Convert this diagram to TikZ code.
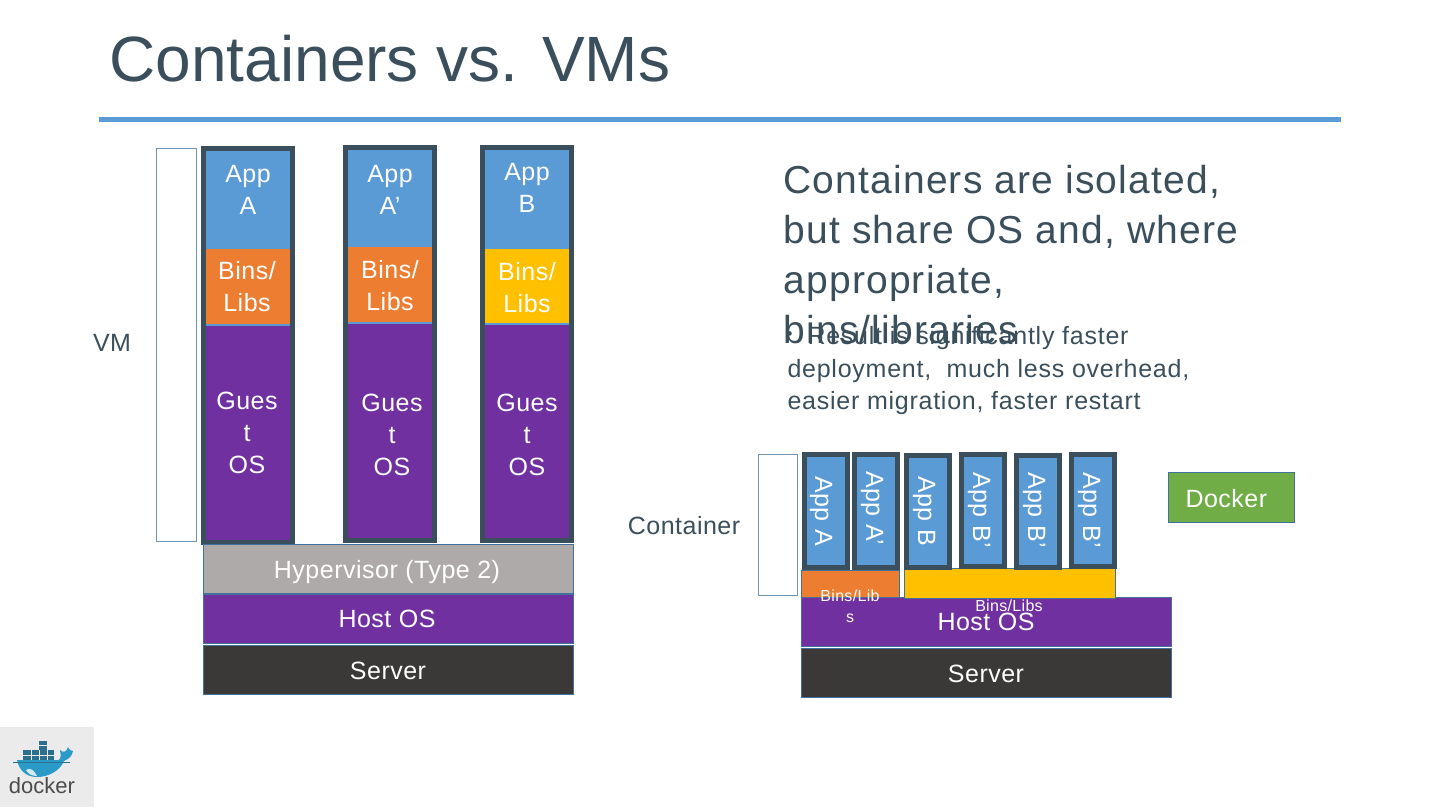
\documentclass[tikz,border=0pt]{standalone}
\usepackage{fontspec}
\setmainfont{Liberation Sans}[LetterSpace=2]
\newfontfamily\titlefont{Liberation Sans}
\newfontfamily\leadfont{Liberation Sans}[LetterSpace=3]
\usepackage{xcolor}
\definecolor{slate}{HTML}{3A4F5B}
\definecolor{appblue}{HTML}{5B9BD5}
\definecolor{binorange}{HTML}{ED7D31}
\definecolor{binyellow}{HTML}{FFC000}
\definecolor{ospurple}{HTML}{7030A0}
\definecolor{hypgray}{HTML}{AEAAAA}
\definecolor{serverdark}{HTML}{3B3838}
\definecolor{dockergreen}{HTML}{70AD47}
\definecolor{edgeblue}{HTML}{41719C}
\definecolor{whale}{HTML}{2A9BC9}
\definecolor{crate}{HTML}{2A6F8E}
\tikzset{
  layer/.style={draw=edgeblue,line width=0.9pt},
  frame/.style={draw=slate,line width=5pt,fill=appblue},
  outline/.style={draw=edgeblue!75,line width=1pt},
  onbox/.style={font=\fontsize{25}{32}\selectfont,text=white,align=center},
  smallbox/.style={font=\fontsize{16}{21}\selectfont,text=white,align=center},
  sidelabel/.style={font=\fontsize{25}{32}\selectfont,text=slate}
}
\begin{document}
\begin{tikzpicture}[x=1pt,y=-1pt]
  \useasboundingbox (0,0) rectangle (1440,810);

  % Title
  \node[font=\titlefont\fontsize{64}{70}\selectfont,text=slate,anchor=west] (title) at (106,59) {Containers vs. VMs};
  \fill[appblue] (99,117.5) rectangle (1341,122.5);

  % VM column 1
  \draw[outline] (156,148.5) rectangle (196,541);
  \draw[frame] (203.5,148.5) rectangle (292.5,542.5);
  \fill[binorange] (206,249) rectangle (290,324);
  \fill[ospurple] (206,326) rectangle (290,540);
  \node[onbox] (appa) at (248,190) {App\\A};
  \node[onbox] (binsa) at (247,287) {Bins/\\Libs};
  \node[onbox] (gueta) at (247,433) {Gues\\t\\OS};

  % VM column 2
  \draw[frame] (345.5,147.5) rectangle (434.5,540.5);
  \fill[binorange] (348,247) rectangle (432,322);
  \fill[ospurple] (348,324) rectangle (432,538);
  \node[onbox] (appb) at (390,190) {App\\A’};
  \node[onbox] (binsb) at (390,286) {Bins/\\Libs};
  \node[onbox] (guetb) at (392,435) {Gues\\t\\OS};

  % VM column 3
  \draw[frame] (482.5,147.5) rectangle (571.5,540.5);
  \fill[binyellow] (485,249) rectangle (569,323);
  \fill[ospurple] (485,325) rectangle (569,538);
  \node[onbox] (appc) at (527,188) {App\\B};
  \node[onbox] (binsc) at (527,288) {Bins/\\Libs};
  \node[onbox] (guetc) at (527,435) {Gues\\t\\OS};

  % VM stack
  \draw[layer,fill=hypgray] (203,544) rectangle (573,593);
  \draw[layer,fill=ospurple] (203,594) rectangle (573,643);
  \draw[layer,fill=serverdark] (203,645) rectangle (573,694);
  \node[onbox] (hyper) at (387,572) {Hypervisor (Type 2)};
  \node[onbox] (hostl) at (387,619) {Host OS};
  \node[onbox] (servl) at (388,671) {Server};
  \node[sidelabel] (vmlabel) at (112,343) {VM};

  % Right hand text
  \node[font=\leadfont\fontsize{39}{50}\selectfont,text=slate,align=left,anchor=north west] (lead) at (780,162) {Containers are isolated,\\but share OS and, where\\appropriate,\\bins/libraries};
  \node[font=\fontsize{17}{20}\selectfont,text=slate,anchor=west] (bullet) at (783,336) {•};
  \node[font=\leadfont\fontsize{25}{32.5}\selectfont,text=slate,align=left,anchor=north west] (result) at (784,323) {\hspace{20pt}Result is significantly faster\\deployment,\ \ much less overhead,\\easier migration, faster restart};

  % Container stack
  \draw[outline] (758,454) rectangle (797,595);
  \draw[layer,fill=ospurple] (801,597) rectangle (1171,646);
  \draw[layer,fill=serverdark] (801,648) rectangle (1171,697);
  \draw[layer,fill=binorange] (801,570) rectangle (899,597);
  \draw[layer,fill=binyellow] (904,568) rectangle (1115,598);
  \draw[frame] (804.5,454.5) rectangle (847.5,567.5);
  \draw[frame] (854.5,454.5) rectangle (897.5,567.5);
  \draw[frame] (906.5,455.5) rectangle (949.5,567.5);
  \draw[frame] (961.5,454.5) rectangle (1004.5,566.5);
  \draw[frame] (1016.5,455.5) rectangle (1059.5,567.5);
  \draw[frame] (1071.5,454.5) rectangle (1114.5,566.5);
  \node[onbox,rotate=-90] (ca) at (821,511) {App A};
  \node[onbox,rotate=-90] (cb) at (872,508) {App A’};
  \node[onbox,rotate=-90] (cc) at (924,511) {App B};
  \node[onbox,rotate=-90] (cd) at (979,510) {App B’};
  \node[onbox,rotate=-90] (ce) at (1034,510) {App B’};
  \node[onbox,rotate=-90] (cf) at (1089,510) {App B’};
  \node[smallbox] (binsl) at (850,606) {Bins/Lib\\s};
  \node[onbox] (hostr) at (986,622) {Host OS};
  \node[smallbox] (binsr) at (1009,606) {Bins/Libs};
  \node[onbox] (servr) at (986,674) {Server};
  \node[sidelabel] (ctlabel) at (684,526) {Container};

  % Docker tag
  \draw[layer,fill=dockergreen] (1168,472) rectangle (1294,522);
  \node[onbox,anchor=west] (dockertag) at (1182,499) {Docker};

  % Logo
  \fill[black!8] (0,727) rectangle (94,807);
  \fill[crate] (23,750) rectangle (54,760);
  \fill[crate] (39,741) rectangle (47,750);
  \draw[black!8,line width=0.4pt] (23,755) -- (54,755) (31,750) -- (31,760) (39,750) -- (39,760) (47,750) -- (47,760) (39,745.5) -- (47,745.5);
  \fill[whale] (17,760) -- (58,760) .. controls (61,760) and (61,755) .. (60,750)
    .. controls (63,753) and (67,752) .. (68,747) .. controls (69,750) and (71,751) .. (73,751)
    .. controls (72,756) and (69,759) .. (64,761) .. controls (60,771) and (48,777) .. (37,777)
    .. controls (26,777) and (19,770) .. (17,760) -- cycle;
  \fill[white!80!whale] (26,770) .. controls (30,767) and (34,770) .. (37,776) .. controls (32,776) and (28,774) .. (26,770) -- cycle;
  \draw[crate,line width=0.6pt] (13,762) -- (70,762);
  \node[font=\titlefont\fontsize{22}{25}\selectfont,text=black!70] (dockerlogo) at (42,786) {docker};
\end{tikzpicture}
\end{document}
